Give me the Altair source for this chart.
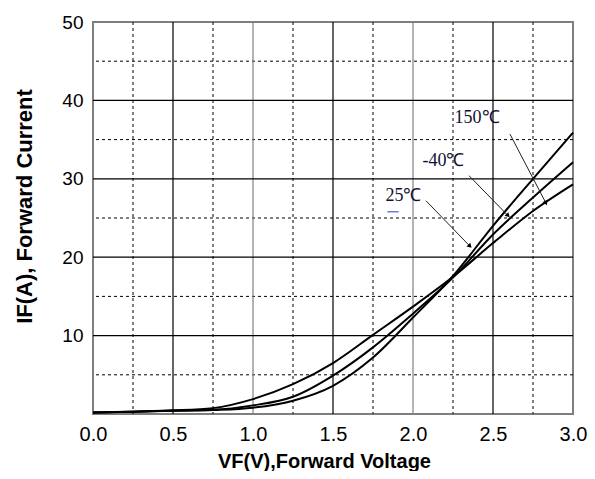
import altair as alt
import pandas as pd

# Forward voltage sample points (V)
vf = [0.0, 0.25, 0.5, 0.75, 1.0, 1.25, 1.5, 1.75, 2.0, 2.25, 2.5, 2.75, 3.0]
# Forward current (A) per temperature
if_150 = [0.2, 0.3, 0.45, 0.75, 1.9, 3.8, 6.5, 10.1, 13.7, 17.5, 21.8, 25.9, 29.3]
if_25 = [0.2, 0.3, 0.45, 0.55, 1.1, 2.2, 4.9, 8.5, 12.8, 17.4, 22.9, 27.6, 32.1]
if_m40 = [0.2, 0.3, 0.4, 0.5, 0.8, 1.7, 3.6, 7.2, 12.3, 17.6, 24.0, 30.0, 35.9]
series_names = ["150℃", "25℃", "-40℃"]

x_ticks = [0.0, 0.5, 1.0, 1.5, 2.0, 2.5, 3.0]
y_ticks = [10, 20, 30, 40, 50]

# annotation labels (text, label position, arrow start, arrow end) in data units
ann_text = ["150℃", "-40℃", "25℃"]
ann_tx = [2.40, 2.19, 1.94]
ann_ty = [37.8, 32.3, 27.8]
arr_x1 = [2.606, 2.35, 2.081]
arr_y1 = [35.7, 30.4, 27.2]
arr_x2 = [2.831, 2.594, 2.356]
arr_y2 = [26.9, 25.3, 21.4]
arr_ang = [152, 136, 136]

rows = []
for name, vals in zip(series_names, [if_150, if_25, if_m40]):
    for v, i in zip(vf, vals):
        rows.append({"VF": v, "IF": i, "series": name})
curves = pd.DataFrame(rows)

xs = alt.Scale(domain=[0, 3], nice=False, zero=False)
ys = alt.Scale(domain=[0, 50], nice=False, zero=False)

FONT = "Liberation Sans"
x_axis = alt.Axis(values=x_ticks, format=".1f", grid=False, ticks=False, domain=False,
                  labelFlush=False, labelPadding=10, labelFontSize=20, labelFont=FONT,
                  labelColor="#000",
                  title="VF(V),Forward Voltage", titleFont=FONT, titleFontSize=20,
                  titleFontWeight="bold", titleColor="#000", titleX=231, titleY=47,
                  titleBaseline="middle")
y_axis = alt.Axis(values=y_ticks, grid=False, ticks=False, domain=False,
                  labelFlush=False, labelPadding=10, labelFontSize=19, labelFont=FONT,
                  labelColor="#000",
                  title="IF(A), Forward Current", titleFont=FONT, titleFontSize=22,
                  titleFontWeight="bold", titleColor="#000", titleX=-69, titleY=184,
                  titleAngle=270, titleBaseline="middle")

def vrules(vals, color, dash):
    df = pd.DataFrame({"v": vals})
    m = alt.Chart(df).mark_rule(color=color, strokeWidth=1, strokeDash=dash) if dash else \
        alt.Chart(df).mark_rule(color=color, strokeWidth=1.2)
    return m.encode(x=alt.X("v:Q", scale=xs, axis=x_axis))

def hrules(vals, color, dash):
    df = pd.DataFrame({"h": vals})
    m = alt.Chart(df).mark_rule(color=color, strokeWidth=1, strokeDash=dash) if dash else \
        alt.Chart(df).mark_rule(color=color, strokeWidth=1.2)
    return m.encode(y=alt.Y("h:Q", scale=ys, axis=y_axis))

grid_layers = [
    vrules([0.25, 0.75, 1.25, 1.75, 2.25, 2.75], "#000", [3, 3]),
    hrules([5, 15, 25, 35, 45], "#000", [3, 3]),
    vrules([0.5, 1.5, 2.5], "#000", None),
    vrules([1.0, 2.0], "#808080", None),
    hrules([10, 20, 30, 40], "#000", None),
]

lines = alt.Chart(curves).mark_line(color="#000", strokeWidth=2, interpolate="monotone").encode(
    x=alt.X("VF:Q", scale=xs, axis=x_axis),
    y=alt.Y("IF:Q", scale=ys, axis=y_axis),
    detail="series:N",
)

ann = pd.DataFrame({"t": ann_text, "tx": ann_tx, "ty": ann_ty,
                    "x1": arr_x1, "y1": arr_y1, "x2": arr_x2, "y2": arr_y2, "ang": arr_ang})

arrows = alt.Chart(ann).mark_rule(color="#222", strokeWidth=1).encode(
    x=alt.X("x1:Q", scale=xs, axis=x_axis), y=alt.Y("y1:Q", scale=ys, axis=y_axis),
    x2="x2:Q", y2="y2:Q")

heads = alt.Chart(ann).mark_point(shape="triangle-up", filled=True, color="#000", size=28, opacity=1).encode(
    x=alt.X("x2:Q", scale=xs, axis=x_axis), y=alt.Y("y2:Q", scale=ys, axis=y_axis),
    angle=alt.Angle("ang:Q", scale=None))

texts = alt.Chart(ann).mark_text(font="Liberation Serif", fontSize=18, color="#111133").encode(
    x=alt.X("tx:Q", scale=xs, axis=x_axis), y=alt.Y("ty:Q", scale=ys, axis=y_axis), text="t:N")

ul = pd.DataFrame({"a": [1.84], "b": [1.91], "c": [25.8]})
underline = alt.Chart(ul).mark_rule(color="#5b7fe0", strokeWidth=1.5).encode(
    x=alt.X("a:Q", scale=xs, axis=x_axis), x2="b:Q", y=alt.Y("c:Q", scale=ys, axis=y_axis))

chart = alt.layer(*grid_layers, lines, arrows, heads, texts, underline).properties(
    width=480, height=392,
    autosize=alt.AutoSizeParams(type="none"),
    padding={"left": 85, "top": 14, "right": 14, "bottom": 57},
).configure_view(stroke="#7f7f7f", strokeWidth=2)

chart.save("out.html", embed_options={"renderer": "svg", "actions": False})
